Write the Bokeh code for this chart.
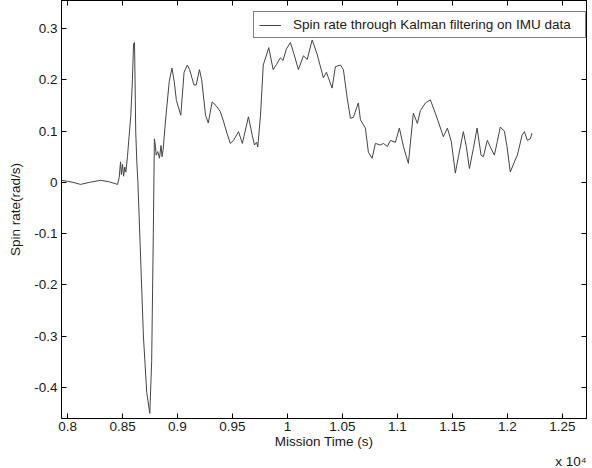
from bokeh.plotting import figure
from bokeh.models import (Range1d, FixedTicker, LinearAxis, Legend, LegendItem, Title)
from bokeh.embed import file_html
from bokeh.resources import INLINE

# Mission time (s) and spin rate (rad/s)
time_s = [7946, 8000, 8050, 8118, 8200, 8300, 8380, 8455, 8470, 8482, 8490, 8500,
          8510, 8520, 8530, 8545, 8560, 8575, 8590, 8600, 8609, 8614, 8620, 8630,
          8640, 8660, 8690, 8720, 8748, 8765, 8780, 8790, 8800, 8806, 8820, 8836,
          8850, 8860, 8870, 8890, 8925, 8950, 8970, 8990, 9030, 9060, 9090, 9110,
          9150, 9170, 9200, 9220, 9255, 9280, 9315, 9350, 9390, 9420, 9450, 9480,
          9510, 9555, 9590, 9645, 9680, 9700, 9720, 9730, 9755, 9780, 9830, 9870,
          9900, 9935, 9960, 9990, 10027, 10060, 10100, 10145, 10180, 10225, 10270,
          10327, 10355, 10373, 10406, 10436, 10482, 10509, 10543, 10573, 10600,
          10645, 10664, 10709, 10736, 10770, 10800, 10845, 10873, 10909, 10936,
          10982, 11018, 11055, 11100, 11145, 11182, 11209, 11255, 11300, 11345,
          11373, 11418, 11455, 11491, 11527, 11555, 11600, 11627, 11655, 11691,
          11725, 11761, 11782, 11818, 11852, 11882, 11909, 11936, 11973, 11997,
          12027, 12064, 12091, 12134, 12155, 12182, 12209, 12224]
spin_rate = [0.004, 0.002, 0.0, -0.004, 0.0, 0.004, 0.001, -0.004, 0.01, 0.04, 0.015, 0.035,
             0.012, 0.03, 0.02, 0.05, 0.09, 0.13, 0.2, 0.27, 0.273, 0.2, 0.1, 0.04,
             0.0, -0.12, -0.3, -0.41, -0.451, -0.35, -0.1, 0.085, 0.07, 0.053, 0.06, 0.047,
             0.072, 0.05, 0.065, 0.118, 0.197, 0.223, 0.197, 0.16, 0.131, 0.215, 0.229, 0.22,
             0.19, 0.19, 0.22, 0.2, 0.131, 0.116, 0.157, 0.15, 0.138, 0.118, 0.096, 0.076,
             0.082, 0.099, 0.076, 0.128, 0.092, 0.073, 0.078, 0.069, 0.131, 0.229, 0.263, 0.22,
             0.23, 0.243, 0.238, 0.26, 0.273, 0.25, 0.22, 0.247, 0.24, 0.278, 0.25,
             0.204, 0.215, 0.204, 0.184, 0.226, 0.229, 0.22, 0.165, 0.125, 0.127,
             0.155, 0.122, 0.106, 0.059, 0.047, 0.076, 0.073, 0.076, 0.07, 0.082,
             0.078, 0.106, 0.07, 0.037, 0.135, 0.115, 0.14, 0.155, 0.161, 0.135,
             0.118, 0.089, 0.106, 0.079, 0.018, 0.05, 0.099, 0.07, 0.027, 0.066,
             0.106, 0.053, 0.05, 0.082, 0.066, 0.053, 0.08, 0.108, 0.1, 0.07,
             0.02, 0.04, 0.053, 0.092, 0.099, 0.082, 0.085, 0.096]

x_ticks = [8000, 8500, 9000, 9500, 10000, 10500, 11000, 11500, 12000, 12500]
x_tick_labels = ["0.8", "0.85", "0.9", "0.95", "1", "1.05", "1.1", "1.15", "1.2", "1.25"]
y_ticks = [-0.4, -0.3, -0.2, -0.1, 0, 0.1, 0.2, 0.3]
y_tick_labels = ["-0.4", "-0.3", "-0.2", "-0.1", "0", "0.1", "0.2", "0.3"]
legend_label = "Spin rate through Kalman filtering on IMU data"
x_min, x_max = 7945, 12720
y_min, y_max = -0.461, 0.355

FONT = "Liberation Sans"
FS = "13.5px"
TXT = "#1a1a1a"

p = figure(width=592, height=468, output_backend="svg", toolbar_location=None,
           x_range=Range1d(x_min, x_max), y_range=Range1d(y_min, y_max),
           min_border_left=61, min_border_right=6, min_border_top=0, min_border_bottom=0)
p.grid.visible = False
p.outline_line_color = "black"
p.outline_line_width = 1
p.background_fill_color = "white"

r = p.line(time_s, spin_rate, line_color="#444444", line_width=1)

def style_axis(ax, show_labels=True):
    ax.major_tick_in = 5
    ax.major_tick_out = 0
    ax.minor_tick_line_color = None
    ax.axis_line_color = "black"
    ax.major_tick_line_color = "black"
    ax.major_label_text_font = FONT
    ax.major_label_text_font_size = FS
    ax.major_label_text_color = TXT
    ax.axis_label_text_font = FONT
    ax.axis_label_text_font_size = FS
    ax.axis_label_text_font_style = "normal"
    ax.axis_label_text_color = TXT
    if not show_labels:
        ax.major_label_text_alpha = 0
        ax.major_label_text_font_size = "0px"
        ax.major_label_standoff = 0

xa = p.xaxis[0]
xa.ticker = FixedTicker(ticks=x_ticks)
xa.major_label_overrides = dict(zip(x_ticks, x_tick_labels))
style_axis(xa)
xa.axis_label = "Mission Time (s)"
xa.major_label_standoff = 3
xa.axis_label_standoff = 0

ya = p.yaxis[0]
ya.ticker = FixedTicker(ticks=y_ticks)
ya.major_label_overrides = dict(zip(y_ticks, y_tick_labels))
style_axis(ya)
ya.axis_label = "Spin rate(rad/s)"
ya.major_label_standoff = 4
ya.axis_label_standoff = 8

top = LinearAxis(ticker=FixedTicker(ticks=x_ticks))
style_axis(top, False)
p.add_layout(top, "above")
right = LinearAxis(ticker=FixedTicker(ticks=y_ticks))
style_axis(right, False)
p.add_layout(right, "right")

sci = Title(text="x 10\u2074", align="right", text_font=FONT, text_font_size=FS,
            text_font_style="normal", text_color=TXT, standoff=0, offset=0)
p.add_layout(sci, "below")

legend = Legend(items=[LegendItem(label=legend_label, renderers=[r])],
                location=(192, 380), margin=0, padding=5, spacing=0,
                glyph_width=22, glyph_height=14, label_height=14, label_width=287,
                label_standoff=12, label_text_font=FONT, label_text_font_size=FS,
                label_text_color=TXT, border_line_color="black", border_line_width=1,
                background_fill_color="white", background_fill_alpha=1)
p.add_layout(legend, "center")

open("out.html", "w").write(file_html(p, INLINE))
